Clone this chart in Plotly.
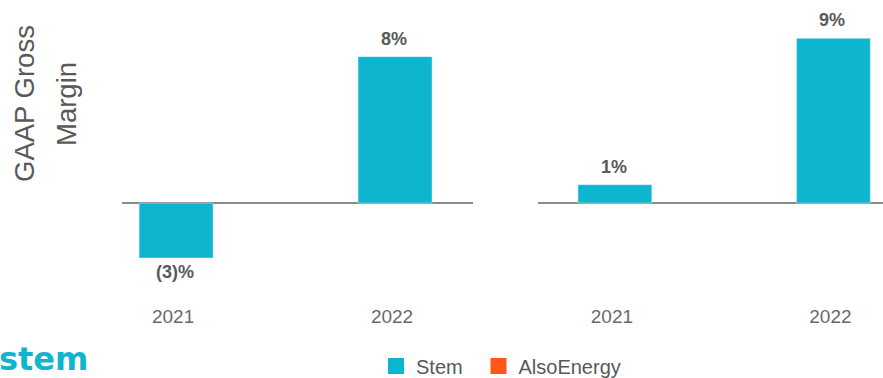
import plotly.graph_objects as go

years = ["2021", "2022"]
left_values = [-3, 8]
left_labels = ["(3)%", "8%"]
right_values = [1, 9]
right_labels = ["1%", "9%"]
legend_names = ["Stem", "AlsoEnergy"]

TEAL = "#0EB5CF"
ORANGE = "#FF5619"
LABEL = "#595959"
TICK = "#6a6a6a"
FONT = "Arial, Liberation Sans, sans-serif"

fig = go.Figure()
fig.add_trace(go.Bar(x=years, y=left_values, marker_color=TEAL, width=0.338,
                     name=legend_names[0], xaxis="x", yaxis="y", showlegend=False))
fig.add_trace(go.Bar(x=years, y=right_values, marker_color=TEAL, width=0.338,
                     name=legend_names[0], xaxis="x2", yaxis="y2", showlegend=False))
for nm, col, lg in zip(legend_names, [TEAL, ORANGE], ["legend", "legend2"]):
    fig.add_trace(go.Scatter(x=[None], y=[None], mode="markers", name=nm, legend=lg,
                             marker=dict(symbol="square", size=16, color=col, line=dict(width=0)),
                             xaxis="x2", yaxis="y2", showlegend=True))

H_TOP, H_BOT = 10, 303
def py(pix):
    return (H_BOT - pix) / (H_BOT - H_TOP)

ann = []
for xa, ya, vals, labs in [("x", "y", left_values, left_labels), ("x2", "y2", right_values, right_labels)]:
    for i, (v, t) in enumerate(zip(vals, labs)):
        ann.append(dict(x=i, y=v, xref=xa, yref=ya, text="<b>%s</b>" % t, showarrow=False,
                        yanchor="bottom" if v >= 0 else "top", yshift=6 if v >= 0 else -2,
                        xshift=-1,
                        font=dict(size=18, color=LABEL, family=FONT)))

ann.append(dict(x=24 / 883, y=py(104), xref="paper", yref="paper", text="GAAP Gross", textangle=-90,
                showarrow=False, font=dict(size=27.5, color=LABEL, family=FONT), xanchor="center", yanchor="middle"))
ann.append(dict(x=66 / 883, y=py(104), xref="paper", yref="paper", text="Margin", textangle=-90,
                showarrow=False, font=dict(size=27.5, color=LABEL, family=FONT), xanchor="center", yanchor="middle"))
ann.append(dict(x=0, y=py(378), xref="paper", yref="paper", text="<b>stem</b>",
                showarrow=False, font=dict(size=32, color=TEAL, family="DejaVu Sans"),
                xanchor="left", yanchor="bottom", xshift=-3, yshift=-2))

yr = [-5.46, 10.55]
axis_common = dict(showgrid=False, zeroline=True, zerolinecolor="#8a8a8a", zerolinewidth=2,
                   showticklabels=False, range=yr, fixedrange=True)
xcommon = dict(type="category", showgrid=False, zeroline=False, showline=False, ticks="",
               ticklabelshift=-3, tickfont=dict(size=19, color=TICK, family=FONT))
legend_common = dict(orientation="h", xanchor="left", y=py(366), yanchor="middle",
                     font=dict(size=20, color=LABEL, family=FONT), itemwidth=30,
                     bgcolor="rgba(0,0,0,0)")

fig.update_layout(
    width=883, height=378,
    margin=dict(l=0, r=0, t=H_TOP, b=378 - H_BOT, autoexpand=False),
    paper_bgcolor="white", plot_bgcolor="white",
    barmode="overlay",
    xaxis=dict(domain=[122 / 883, 473 / 883], range=[-0.247, 1.356], **xcommon),
    xaxis2=dict(domain=[538 / 883, 1.0], range=[-0.352, 1.227], anchor="y2", **xcommon),
    yaxis=dict(anchor="x", **axis_common),
    yaxis2=dict(anchor="x2", **axis_common),
    legend=dict(x=376 / 883, **legend_common),
    legend2=dict(x=478.5 / 883, **legend_common),
    annotations=ann,
    font=dict(family=FONT),
)

fig.write_html("out.html")
